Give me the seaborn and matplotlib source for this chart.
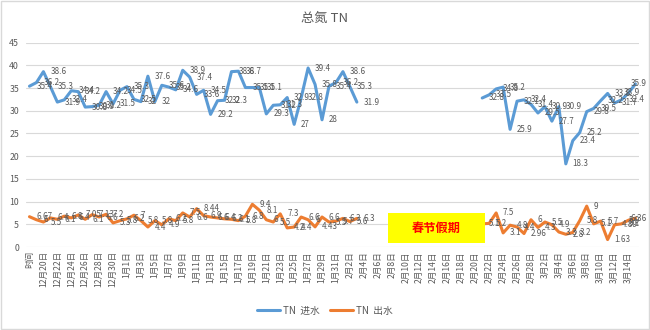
import numpy as np
import pandas as pd
import matplotlib
matplotlib.use("Agg")
import matplotlib.pyplot as plt
from matplotlib.lines import Line2D
from matplotlib.patches import Rectangle
import seaborn as sns

# Category axis: header cell, then one entry per day
dates = pd.date_range("2020-12-19", "2021-03-15", freq="D")
categories = ["时间"] + [f"{d.month}月{d.day}日" for d in dates]

# Total nitrogen (mg/L): first run of readings starts at the first category,
# the second run resumes after the Spring Festival break
start_before = 0
start_after = categories.index("2月21日")

tn_in_before = [35.4, 36.2, 38.6, 35.3, 31.9, 32.4, 34.4, 34.2, 30.8, 30.9,
                31.2, 34.2, 31.5, 34.5, 35.3, 32.5, 32.0, 37.6, 32.0, 35.6,
                35.2, 34.6, 38.9, 37.4, 33.6, 34.5, 29.2, 32.2, 32.3, 38.6,
                38.7, 35.1, 35.1, 35.1, 29.3, 31.2, 31.3, 32.9, 27.0, 32.8,
                39.4, 35.8, 28.0, 35.4, 36.2, 38.6, 35.3, 31.9]
tn_in_after = [32.8, 33.5, 34.8, 35.2, 25.9, 32.1, 32.4, 31.4, 29.5, 30.9,
               27.7, 30.9, 18.3, 23.4, 25.2, 29.8, 30.5, 32.2, 33.8, 31.7,
               32.4, 33.9, 35.9]

tn_out_before = [6.67, 6.0, 5.5, 6.4, 6.1, 6.8, 6.4, 7.05, 6.1, 7.13,
                 6.6, 7.2, 5.3, 5.8, 6.2, 7.0, 5.8, 4.4, 5.8, 4.9,
                 6.2, 5.8, 7.5, 6.6, 8.44, 6.9, 6.6, 6.4, 6.2, 6.1,
                 5.8, 6.8, 9.4, 8.1, 6.0, 5.5, 7.3, 4.2, 4.4, 6.6,
                 6.0, 4.43, 6.6, 5.5, 5.7, 6.3, 5.6, 6.3]
tn_out_after = [5.1, 5.2, 7.5, 3.1, 4.8, 4.4, 2.96, 6.0, 4.3, 5.5,
                4.9, 3.3, 2.8, 3.2, 5.8, 9.0, 5.1, 5.7, 1.63, 4.89,
                5.1, 5.9, 6.36]

series_names = ["TN  进水", "TN  出水"]
yticks = [0, 5, 10, 15, 20, 25, 30, 35, 40, 45]
holiday_text = "春节假期"

palette = {series_names[0]: "#5B9BD5", series_names[1]: "#ED7D31"}
text_color = "#595959"

frames = []
for name, seg, start, vals in [
    (series_names[0], "a", start_before, tn_in_before),
    (series_names[0], "b", start_after, tn_in_after),
    (series_names[1], "a", start_before, tn_out_before),
    (series_names[1], "b", start_after, tn_out_after),
]:
    frames.append(pd.DataFrame({
        "pos": start + np.arange(len(vals)),
        "value": vals,
        "series": name,
        "segment": f"{name}-{seg}",
    }))
df = pd.concat(frames, ignore_index=True)

sns.set_theme(style="white")
plt.rcParams["font.family"] = ["Noto Sans CJK SC", "DejaVu Sans"]

fig = plt.figure(figsize=(6.5, 3.3), dpi=100)
ax = fig.add_axes([0.04, 0.2515, 0.943, 0.6195])

sns.lineplot(data=df, x="pos", y="value", hue="series", units="segment",
             estimator=None, sort=False, palette=palette, linewidth=2.2,
             legend=False, ax=ax, solid_joinstyle="round",
             solid_capstyle="round")

# value labels to the right of each point; the last two days are pulled
# back inside the chart so they are not clipped at the right edge
last_pos = len(categories) - 1
for _, row in df.iterrows():
    if row["pos"] >= last_pos - 1:
        offset, align = (8, 0), "right"
    else:
        offset, align = (5, 0), "left"
    ax.annotate(f"{row['value']:g}", (row["pos"], row["value"]),
                xytext=offset, textcoords="offset points",
                ha=align, va="center", fontsize=5.8, color=text_color,
                zorder=4)

ax.set_xlim(-0.5, len(categories) - 0.5)
ax.set_ylim(yticks[0], yticks[-1])
ax.set_yticks(yticks)
ax.set_xticks(range(0, len(categories), 2))
ax.set_xticklabels(categories[::2], rotation=90)
ax.set_xlabel("")
ax.set_ylabel("")
ax.grid(axis="y", color="#d9d9d9", linewidth=0.8)
ax.grid(axis="x", visible=False)
ax.set_axisbelow(True)
for sp in ax.spines.values():
    sp.set_visible(False)
ax.tick_params(axis="y", length=0, pad=5, labelsize=6.3, labelcolor=text_color)
ax.tick_params(axis="x", length=0, pad=3, labelsize=6.2, labelcolor=text_color)

# holiday marker box
ax.add_patch(Rectangle((0.5905, 0.019), 0.158, 0.147, transform=ax.transAxes,
                       facecolor="#FFFF00", edgecolor="none", zorder=6))
ax.text(0.5905 + 0.079, 0.0925, holiday_text, transform=ax.transAxes,
        ha="center", va="center", color="#FF0000", fontsize=8.8,
        fontweight="bold", zorder=7)

fig.text(0.5, 1 - 18 / 330, "总氮 TN", ha="center", va="center",
         fontsize=9.5, color=text_color)

handles = [Line2D([], [], color=palette[n], linewidth=2.2) for n in series_names]
fig.legend(handles, series_names, loc="center", bbox_to_anchor=(0.5, 0.058),
           ncol=2, frameon=False, fontsize=7, labelcolor=text_color,
           handlelength=2.4, handletextpad=0.3, columnspacing=1.0)

fig.patches.append(Rectangle((0.0015, 0.003), 0.997, 0.994,
                             transform=fig.transFigure, fill=False,
                             edgecolor="#d9d9d9", linewidth=1.0))

fig.savefig("out.png", dpi=100)
